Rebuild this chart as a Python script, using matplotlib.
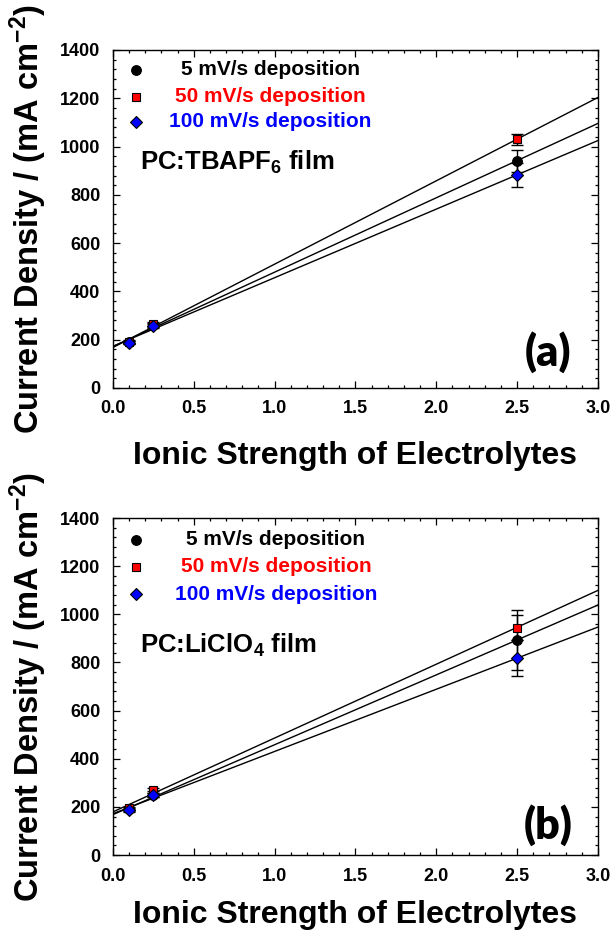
import numpy as np
import matplotlib
matplotlib.use("Agg")
import matplotlib.pyplot as plt
from matplotlib.ticker import MultipleLocator

plt.rcParams['font.family'] = ['Liberation Sans', 'DejaVu Sans']
plt.rcParams['font.weight'] = 'bold'
plt.rcParams['mathtext.fontset'] = 'custom'
plt.rcParams['mathtext.bf'] = 'Liberation Sans:bold'
plt.rcParams['mathtext.rm'] = 'Liberation Sans:bold'
plt.rcParams['mathtext.default'] = 'bf'

# Ionic strength values (x) shared by both panels
ionic_strength = [0.1, 0.25, 2.5]

series_labels = ["5 mV/s deposition", "50 mV/s deposition", "100 mV/s deposition"]

# Panel (a): PC:TBAPF6 film
tbapf6_5mv = [190, 262, 941]
tbapf6_50mv = [192, 265, 1030]
tbapf6_100mv = [188, 258, 882]
tbapf6_5mv_err = [6, 8, 45]
tbapf6_50mv_err = [6, 8, 23]
tbapf6_100mv_err = [6, 8, 51]

# Panel (b): PC:LiClO4 film
liclo4_5mv = [190, 248, 893]
liclo4_50mv = [195, 272, 945]
liclo4_100mv = [185, 250, 817]
liclo4_5mv_err = [6, 8, 125]
liclo4_50mv_err = [6, 8, 52]
liclo4_100mv_err = [6, 8, 75]

colors = ['black', 'red', 'blue']
markers = ['o', 's', 'D']
msizes = [7.0, 6.3, 6.0]

fig = plt.figure(figsize=(6.15, 9.32), dpi=100)
ax_a = fig.add_axes([0.1837, 0.5837, 0.7886, 0.3627])
ax_b = fig.add_axes([0.1837, 0.0826, 0.7886, 0.3616])

panels = [
    (ax_a, [tbapf6_5mv, tbapf6_50mv, tbapf6_100mv],
     [tbapf6_5mv_err, tbapf6_50mv_err, tbapf6_100mv_err],
     "PC:TBAPF$_{6}$ film", "(a)",
     [0.941, 0.861, 0.787], 0.324, 0.666, 0.107, 17),
    (ax_b, [liclo4_5mv, liclo4_50mv, liclo4_100mv],
     [liclo4_5mv_err, liclo4_50mv_err, liclo4_100mv_err],
     "PC:LiClO$_{4}$ film", "(b)",
     [0.935, 0.855, 0.774], 0.336, 0.623, 0.089, 11),
]

xfit = np.linspace(0, 3.0, 50)
for ax, ys, errs, film, tag, leg_y, leg_x, film_y, tag_y, xlab_pad in panels:
    for y, e, c, m, ms in zip(ys, errs, colors, markers, msizes):
        slope, intercept = np.polyfit(ionic_strength, y, 1)
        ax.plot(xfit, slope * xfit + intercept, color='black', lw=1.0, zorder=2)
        ax.errorbar(ionic_strength, y, yerr=e, fmt='none', ecolor='black',
                    elinewidth=1.0, capsize=4, capthick=1.0, zorder=3)
        ax.plot(ionic_strength, y, linestyle='none', marker=m, ms=ms,
                color=c, markeredgecolor='black', markeredgewidth=0.8, zorder=4)

    # legend drawn as marker + centered coloured text
    for ly, c, m, ms, lab in zip(leg_y, colors, markers, msizes, series_labels):
        ax.plot([0.048], [ly], transform=ax.transAxes, linestyle='none',
                marker=m, ms=ms, color=c, markeredgecolor='black',
                markeredgewidth=0.8, clip_on=False)
        ax.text(leg_x, ly, lab, transform=ax.transAxes, ha='center',
                va='center', color=c, fontsize=15, fontweight='bold')

    ax.text(0.056, film_y, film, transform=ax.transAxes, ha='left',
            va='center', fontsize=18.5, fontweight='bold')
    ax.text(0.897, tag_y, tag, transform=ax.transAxes, ha='center',
            va='center', fontsize=31, fontweight='heavy',
            family=['Lato', 'DejaVu Sans'])

    ax.set_xlim(0, 3.0)
    ax.set_ylim(0, 1400)
    ax.xaxis.set_major_locator(MultipleLocator(0.5))
    ax.xaxis.set_minor_locator(MultipleLocator(0.1))
    ax.yaxis.set_major_locator(MultipleLocator(200))
    ax.yaxis.set_minor_locator(MultipleLocator(40))
    ax.tick_params(which='both', direction='in', top=True, right=True,
                   labelsize=13, width=0.9)
    ax.tick_params(which='major', length=5, pad=9)
    ax.tick_params(which='minor', length=2.5)
    for lbl in ax.get_xticklabels() + ax.get_yticklabels():
        lbl.set_fontweight('bold')
    for sp in ax.spines.values():
        sp.set_linewidth(1.0)

    ax.set_xlabel("Ionic Strength of Electrolytes", fontsize=23,
                  fontweight='bold', labelpad=xlab_pad)
    ax.set_ylabel("Current Density / (mA cm$^{-2}$)", fontsize=23.5,
                  fontweight='bold', labelpad=8)

fig.savefig("out.png", dpi=100)
